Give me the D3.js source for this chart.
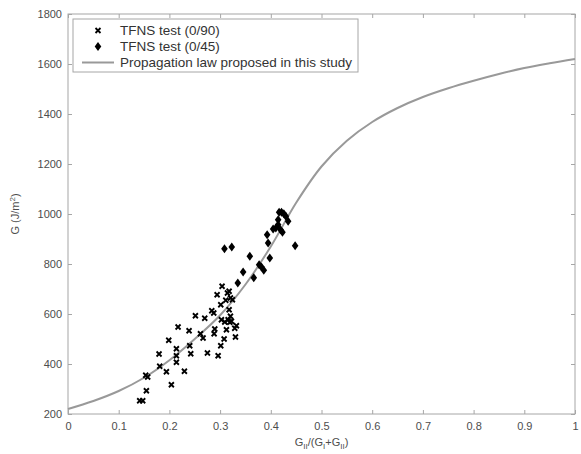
<!DOCTYPE html>
<html><head><meta charset="utf-8">
<script src="https://cdn.jsdelivr.net/npm/d3@7"></script>
<style>body{margin:0;background:#fff}svg{display:block}text{font-family:"Liberation Sans",Arial,sans-serif}</style>
</head><body>
<svg id="c" width="581" height="454"></svg>
<script>
// Data
const xTicks = [0,0.1,0.2,0.3,0.4,0.5,0.6,0.7,0.8,0.9,1];
const xTickLabels = ["0","0.1","0.2","0.3","0.4","0.5","0.6","0.7","0.8","0.9","1"];
const yTicks = [200,400,600,800,1000,1200,1400,1600,1800];
const legendLabels = ["TFNS test (0/90)","TFNS test (0/45)","Propagation law proposed in this study"];

const test090x = [0.1414,0.1474,0.1546,0.1533,0.1572,0.1796,0.1809,0.1941,0.2039,0.1987,0.2138,0.2138,0.2138,0.2171,0.2296,0.2388,0.2401,0.2421,0.2513,0.2612,0.2664,0.2697,0.2750,0.2836,0.2875,0.2895,0.2882,0.2961,0.2941,0.3013,0.3013,0.3039,0.3079,0.3112,0.3125,0.3145,0.3178,0.3204,0.3178,0.3158,0.3191,0.3224,0.3204,0.3092,0.3243,0.3303,0.3322,0.3289,0.3026];
const test090G = [253,253,293,355,348,440,391,369,317,495,461,433,407,548,371,533,473,441,593,521,504,583,444,613,604,540,521,433,677,473,637,711,500,655,537,684,691,664,617,577,567,571,591,568,657,508,553,543,577];

const test045x = [0.3086,0.3230,0.3349,0.3454,0.3586,0.3664,0.3770,0.3816,0.3862,0.3928,0.3980,0.3947,0.4046,0.4099,0.4145,0.4164,0.4211,0.4257,0.4296,0.4230,0.4191,0.4480,0.4145,0.4342];
const test045G = [861,868,724,768,831,745,797,788,775,917,824,884,940,944,957,1007,1007,1001,991,927,937,873,977,971];

const lawX = [0,0.05,0.1,0.15,0.2,0.25,0.3,0.35,0.4,0.45,0.5,0.55,0.6,0.65,0.7,0.75,0.8,0.85,0.9,0.95,1];
const lawG = [220,252,292,345,415,500,595,718,870,1045,1190,1293,1368,1424,1468,1503,1533,1560,1584,1603,1620];

const W = 581, H = 454;
const m = {left:68, right:6, top:14, bottom:40};
const svg = d3.select("#c");
const x = d3.scaleLinear().domain([0,1]).range([m.left, W-m.right]);
const y = d3.scaleLinear().domain([200,1800]).range([H-m.bottom, m.top]);
const axisCol = "#a6a6a6", textCol = "#4d4d4d";

// Frame and ticks
const g = svg.append("g");
g.append("rect").attr("x",x(0)).attr("y",y(1800)).attr("width",x(1)-x(0)).attr("height",y(200)-y(1800))
  .attr("fill","none").attr("stroke",axisCol).attr("stroke-width",1);

const style = a => { a.select(".domain").remove(); a.selectAll("line").attr("stroke",axisCol); a.selectAll("text").attr("fill",textCol).style("font-size","11px"); };
g.append("g").attr("transform",`translate(0,${y(200)})`)
  .call(d3.axisBottom(x).tickValues(xTicks).tickFormat((d,i)=>xTickLabels[i]).tickSizeInner(-4).tickSizeOuter(0).tickPadding(8))
  .call(style);
g.append("g").attr("transform",`translate(0,${y(1800)})`)
  .call(d3.axisTop(x).tickValues(xTicks).tickFormat("").tickSizeInner(-4).tickSizeOuter(0)).call(style);
g.append("g").attr("transform",`translate(${x(0)},0)`)
  .call(d3.axisLeft(y).tickValues(yTicks).tickFormat(d3.format("d")).tickSizeInner(-4).tickSizeOuter(0).tickPadding(6))
  .call(style);
g.append("g").attr("transform",`translate(${x(1)},0)`)
  .call(d3.axisRight(y).tickValues(yTicks).tickFormat("").tickSizeInner(-4).tickSizeOuter(0)).call(style);

// Axis labels
const yl = svg.append("text").attr("transform",`translate(19,${(y(200)+y(1800))/2}) rotate(-90)`)
  .attr("text-anchor","middle").attr("fill",textCol).style("font-size","11px");
yl.append("tspan").text("G (J/m");
yl.append("tspan").text("2").attr("dy",-4).style("font-size","8px");
yl.append("tspan").text(")").attr("dy",4);

const xl = svg.append("text").attr("x",(x(0)+x(1))/2).attr("y",446).attr("text-anchor","middle")
  .attr("fill",textCol).style("font-size","11px");
xl.append("tspan").text("G");
xl.append("tspan").text("II").attr("dy",3).style("font-size","8px");
xl.append("tspan").text("/(G").attr("dy",-3);
xl.append("tspan").text("I").attr("dy",3).style("font-size","8px");
xl.append("tspan").text("+G").attr("dy",-3);
xl.append("tspan").text("II").attr("dy",3).style("font-size","8px");
xl.append("tspan").text(")").attr("dy",-3);

// Propagation law curve
const lawData = lawX.map((v,i)=>[v,lawG[i]]);
svg.append("path").datum(lawData)
  .attr("d", d3.line().x(d=>x(d[0])).y(d=>y(d[1])).curve(d3.curveCatmullRom))
  .attr("fill","none").attr("stroke","#999").attr("stroke-width",2);

const crossPath = "M-2.5,-2.5L2.5,2.5M-2.5,2.5L2.5,-2.5";
const diamondPath = "M0,-4.5L3.3,0L0,4.5L-3.3,0Z";

// Crosses
svg.append("g").selectAll("path").data(test090x.map((v,i)=>[v,test090G[i]])).join("path")
  .attr("transform",d=>`translate(${x(d[0])},${y(d[1])})`).attr("d",crossPath)
  .attr("stroke","#000").attr("stroke-width",1.8).attr("fill","none");

// Diamonds
svg.append("g").selectAll("path").data(test045x.map((v,i)=>[v,test045G[i]])).join("path")
  .attr("transform",d=>`translate(${x(d[0])},${y(d[1])})`).attr("d",diamondPath)
  .attr("fill","#000");

// Legend
const lg = svg.append("g");
lg.append("rect").attr("x",73).attr("y",19).attr("width",285).attr("height",53)
  .attr("fill","#fff").attr("stroke",axisCol).attr("stroke-width",1);
const ly = [30.5,46.5,62.5];
lg.append("path").attr("transform",`translate(98,${ly[0]})`).attr("d",crossPath)
  .attr("stroke","#000").attr("stroke-width",1.8);
lg.append("path").attr("transform",`translate(98,${ly[1]})`).attr("d",diamondPath).attr("fill","#000");
lg.append("line").attr("x1",82).attr("x2",114).attr("y1",ly[2]).attr("y2",ly[2]).attr("stroke","#999").attr("stroke-width",2);
lg.selectAll("text.l").data(legendLabels).join("text").attr("class","l")
  .attr("x",120).attr("y",(d,i)=>ly[i]).attr("dy","0.35em").attr("fill","#333")
  .style("font-size","13.5px").text(d=>d);
</script>
</body></html>
